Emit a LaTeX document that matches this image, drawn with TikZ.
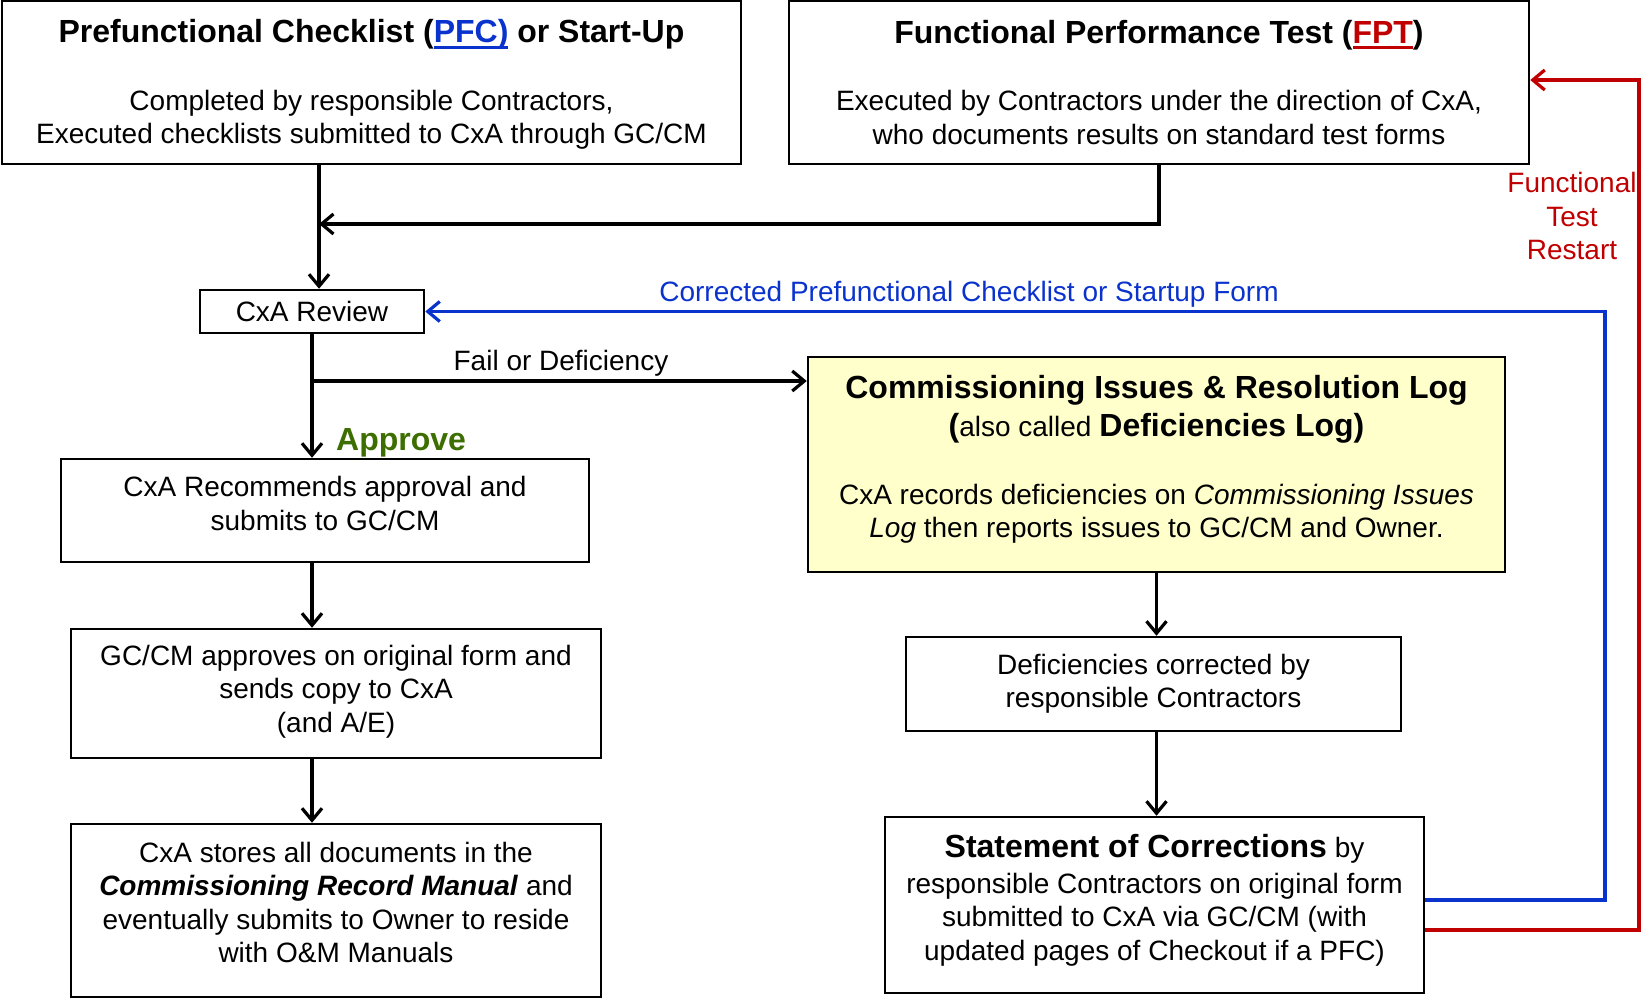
\documentclass[tikz,border=0pt]{standalone}
\usepackage{fontspec}
\setmainfont{Liberation Sans}
\usetikzlibrary{arrows.meta}
\definecolor{cblue}{RGB}{10,50,205}
\definecolor{cred}{RGB}{192,0,0}
\definecolor{cgreen}{RGB}{60,110,0}
\definecolor{cyell}{RGB}{255,255,204}
\newcommand\myul[1]{\setbox0\hbox{#1}\rlap{\rule[-6pt]{\wd0}{3pt}}\box0}
\newcommand\ttlfont{\bfseries\fontsize{32}{38}\selectfont}
\newcommand\mydepth[1]{\rule[-#1pt]{0pt}{1pt}}
\begin{document}
\begin{tikzpicture}[x=1pt,y=-1pt,
  box/.style={draw, line width=2.5pt, inner sep=0pt, align=center, font=\fontsize{28}{33.5}\selectfont},
  lbl/.style={inner sep=0pt, align=center, font=\fontsize{28}{33.5}\selectfont},
  arr/.style={draw, line width=3.2pt, -{Straight Barb[length=12pt,width=20pt]}},
  barr/.style={arr, draw=cblue},
  rarr/.style={arr, draw=cred}]
\useasboundingbox (0,0) rectangle (1641,998);

\node[box, minimum width=739pt, minimum height=163pt] (pfc) at (371.5,82.5)
 {\rule{0pt}{27.5pt}{\ttlfont Prefunctional Checklist (\textcolor{cblue}{\myul{PFC)}} or Start-Up}\\[34pt]
  Completed by responsible Contractors,\\
  Executed checklists submitted to CxA through GC/CM};
\node[box, minimum width=740pt, minimum height=163pt] (fpt) at (1159,82.5)
 {{\ttlfont Functional Performance Test (\textcolor{cred}{\myul{FPT}})}\\[34pt]
  Executed by Contractors under the direction of CxA,\\
  who documents results on standard test forms};
\node[box, minimum width=224pt, minimum height=43pt] (rev) at (312,311.5) {CxA Review};
\node[box, minimum width=528pt, minimum height=103pt] (rec) at (325,510.5)
 {CxA Recommends approval and\\ submits to GC/CM\mydepth{14.6}};
\node[box, minimum width=530pt, minimum height=129pt] (gcm) at (336,693.5)
 {GC/CM approves on original form and\\ sends copy to CxA\\ (and A/E)\mydepth{10.1}};
\node[box, minimum width=530pt, minimum height=173pt] (sto) at (336,910.5)
 {CxA stores all documents in the\\ \textbf{\textit{Commissioning Record Manual}} and\\
  eventually submits to Owner to reside\\ with O\&M Manuals\mydepth{16.8}};
\node[box, fill=cyell, minimum width=697pt, minimum height=215pt] (iss) at (1156.5,464.5)
 {{\ttlfont Commissioning Issues \& Resolution Log}\\[4.5pt]
  {\ttlfont (}also called {\ttlfont Deficiencies Log)}\\[34.5pt]
  CxA records deficiencies on \textit{Commissioning Issues}\\
  \textit{Log} then reports issues to GC/CM and Owner.\mydepth{16.3}};
\node[box, minimum width=495pt, minimum height=94pt] (def) at (1153.5,684)
 {Deficiencies corrected by\\ responsible Contractors};
\node[box, minimum width=539pt, minimum height=176pt] (stm) at (1154.5,905)
 {{\ttlfont Statement of Corrections} by\\[2.5pt]
  responsible Contractors on original form\\
  submitted to CxA via GC/CM (with\\
  updated pages of Checkout if a PFC)\mydepth{15.3}};

\node[lbl, anchor=base] (lfail) at (561,370) {Fail or Deficiency};
\node[lbl, anchor=base west, text=cgreen, font=\ttlfont] (lapp) at (336,450) {Approve};
\node[lbl, anchor=base, text=cblue] (lcor) at (969,301) {Corrected Prefunctional Checklist or Startup Form};
\node[lbl, text=cred] (lres) at (1572,216) {Functional\\ Test\\ Restart};

\coordinate (xa) at (319,0);
\coordinate (ja) at (319,224);
\coordinate (fy) at (0,381);
\coordinate (bx) at (1605,311.5);
\coordinate (rx) at (1639,80);

\draw[arr] (pfc.south -| xa) -- (rev.north -| xa);
\draw[arr] (fpt.south) |- (ja);
\draw[arr] (rev.south) -- (rec.north -| rev.south);
\draw[arr] (rev.south |- fy) -- (iss.west |- fy);
\draw[arr] (rec.south -| rev.south) -- (gcm.north -| rev.south);
\draw[arr] (gcm.south -| rev.south) -- (sto.north -| rev.south);
\draw[arr] (iss.south) -- (def.north -| iss.south);
\draw[arr] (def.south -| iss.south) -- (stm.north -| iss.south);
\draw[barr] ([yshift=5pt]stm.east) -| (bx) -- (rev.east);
\draw[rarr] ([yshift=-25pt]stm.east) -| (rx) -- (rx -| fpt.east);
\end{tikzpicture}
\end{document}
